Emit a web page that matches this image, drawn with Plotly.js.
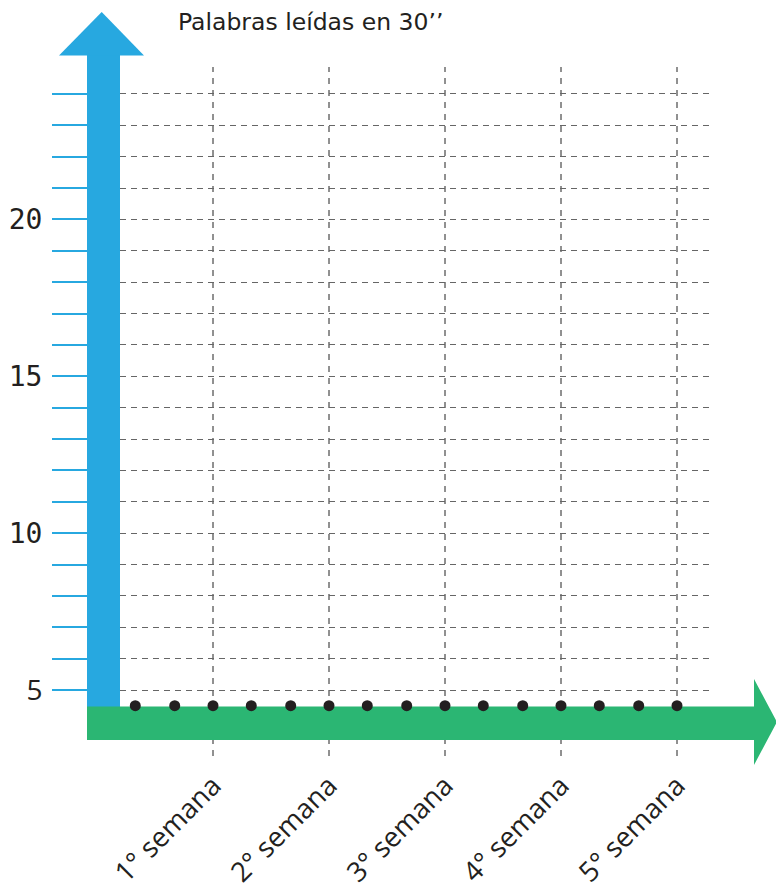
<!DOCTYPE html>
<html>
<head>
<meta charset="utf-8">
<script src="https://cdn.plot.ly/plotly-3.0.1.min.js"></script>
<style>html,body{margin:0;padding:0;background:#fff;}#chart{width:776px;height:896px;}</style>
</head>
<body>
<div id="chart"></div>
<script>
// ---- data ----
var titleText = "Palabras leídas en 30’’";
var weeks = [1, 2, 3, 4, 5];
var weekLabels = ["1° semana", "2° semana", "3° semana", "4° semana", "5° semana"];
var dotX = [0.33, 0.67, 1, 1.33, 1.67, 2, 2.33, 2.67, 3, 3.33, 3.67, 4, 4.33, 4.67, 5];
var dotY = [4.5, 4.5, 4.5, 4.5, 4.5, 4.5, 4.5, 4.5, 4.5, 4.5, 4.5, 4.5, 4.5, 4.5, 4.5];
var yTickVals = [5, 6, 7, 8, 9, 10, 11, 12, 13, 14, 15, 16, 17, 18, 19, 20, 21, 22, 23, 24];
var yTickText = ["<span style=\"font-family:'Open Sans'\">5</span>", "", "", "", "", "10", "", "", "", "", "15", "", "", "", "", "20", "", "", "", ""];

// ---- layout geometry (pixels) ----
var W = 776, H = 896;
var L = 120, R = 713, T = 67, B = 756;
function px(x) { return (x - L) / (R - L); }
function py(y) { return (B - y) / (B - T); }

var BLUE = '#27a8e0', GREEN = '#2bb673', INK = '#231f20';

var shapes = [];
weeks.forEach(function (w) {
  shapes.push({type: 'line', xref: 'x', yref: 'paper', x0: w, x1: w, y0: 0, y1: 1,
    line: {color: '#222', width: 1, dash: '6px,6px'}, layer: 'below'});
});
// blue vertical arrow
shapes.push({type: 'rect', xref: 'paper', yref: 'paper', x0: px(87), x1: px(120), y0: py(740), y1: py(55),
  fillcolor: BLUE, line: {width: 0}, layer: 'below'});
shapes.push({type: 'path', xref: 'paper', yref: 'paper',
  path: 'M' + px(59) + ',' + py(55.5) + ' L' + px(144) + ',' + py(55.5) + ' L' + px(101.7) + ',' + py(12) + ' Z',
  fillcolor: BLUE, line: {width: 0}, layer: 'below'});
// green horizontal arrow
shapes.push({type: 'rect', xref: 'paper', yref: 'paper', x0: px(87), x1: px(754.5), y0: py(740), y1: py(706.5),
  fillcolor: GREEN, line: {width: 0}, layer: 'below'});
shapes.push({type: 'path', xref: 'paper', yref: 'paper',
  path: 'M' + px(754) + ',' + py(679) + ' L' + px(777) + ',' + py(722) + ' L' + px(754) + ',' + py(765) + ' Z',
  fillcolor: GREEN, line: {width: 0}, layer: 'below'});

var xRange = [(L - 97) / 116, (R - 97) / 116];
var yRange = [5 - (B - 690) / 31.37, 5 + (690 - T) / 31.37];

var data = [{
  type: 'scatter', mode: 'markers', x: dotX, y: dotY, cliponaxis: false,
  marker: {size: 11, color: INK}, hoverinfo: 'skip', showlegend: false
}];

var layout = {
  width: W, height: H,
  margin: {l: L, r: W - R, t: T, b: H - B, pad: 0},
  paper_bgcolor: '#fff', plot_bgcolor: 'rgba(0,0,0,0)',
  showlegend: false,
  title: {text: titleText, xref: 'container', yref: 'container', x: 178 / W, xanchor: 'left',
    y: 1 - 22 / H, yanchor: 'middle', font: {family: 'DejaVu Sans', size: 23.5, color: INK}},
  xaxis: {range: xRange, tickmode: 'array', tickvals: weeks, ticktext: weekLabels, tickangle: -45,
    showgrid: false, zeroline: false, showline: false, ticks: '', fixedrange: true,
    ticklabelstandoff: 7,
    tickfont: {family: 'Open Sans', size: 27.5, color: INK}},
  yaxis: {range: yRange, tickmode: 'array', tickvals: yTickVals, ticktext: yTickText,
    showgrid: true, gridcolor: '#666', gridwidth: 1, griddash: '6px,5px',
    zeroline: false, showline: false, ticks: 'outside', ticklen: 67, tickwidth: 2, tickcolor: BLUE,
    ticklabelstandoff: 4, fixedrange: true,
    tickfont: {family: 'DejaVu Sans Mono', size: 28, color: INK}},
  shapes: shapes
};

Plotly.newPlot('chart', data, layout, {staticPlot: true, displayModeBar: false});
</script>
</body>
</html>
